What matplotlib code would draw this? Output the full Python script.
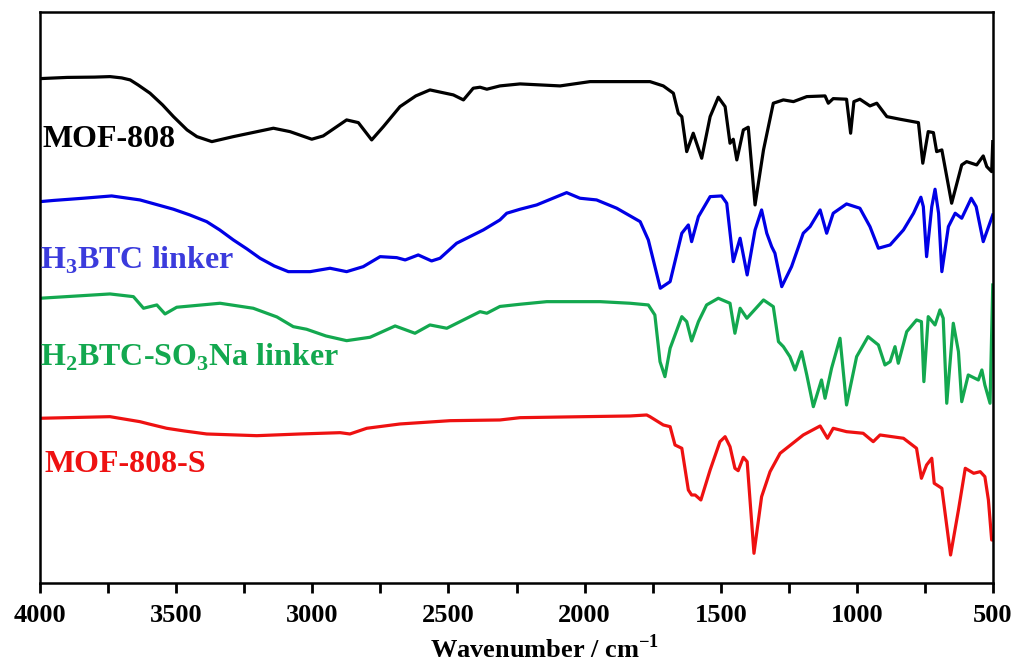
import matplotlib
matplotlib.use("Agg")
import matplotlib.pyplot as plt

plt.rcParams['font.family'] = ['Liberation Serif', 'DejaVu Serif']
plt.rcParams['font.weight'] = 'bold'
plt.rcParams['mathtext.fontset'] = 'custom'
plt.rcParams['mathtext.rm'] = 'Liberation Serif:bold'
plt.rcParams['mathtext.bf'] = 'Liberation Serif:bold'

# FTIR spectra, stacked with offsets (transmittance, a.u.)
wn_mof = [4000, 3900, 3800, 3743, 3700, 3669, 3640, 3596, 3550, 3510, 3460, 3424, 3369,
          3290, 3143, 3082, 3002,
          2960, 2874, 2831, 2782, 2739, 2678, 2620, 2568, 2482, 2445, 2409, 2384, 2359,
          2311, 2237, 2090, 1980, 1760, 1711, 1674, 1656, 1643, 1625, 1601, 1570,
          1539, 1509, 1484, 1466, 1454, 1441, 1417, 1399, 1374, 1343, 1307, 1270,
          1233, 1184, 1117, 1105, 1087, 1038, 1023, 1011, 989, 952, 927, 890, 842,
          774, 758, 738, 719, 707, 688, 652, 615, 597, 560, 536, 523, 505, 501]
t_mof = [504.3, 505.5, 505.8, 506.3, 505, 503, 498, 489.7, 478, 466.3, 453, 446.3, 441.3,
         446.3, 454.7, 451.3, 443.7,
         447, 463, 460.3, 443, 456.3, 476.3, 487, 493, 488, 483, 494.7, 495.7, 493.7,
         497, 499, 497, 501.3, 501.3, 497, 489.7, 469.7, 466.3, 431.3, 449.7, 424.7,
         466.3, 485.7, 476.3, 439.7, 443.7, 423, 453, 455.7, 378, 433, 479.7, 483,
         481.3, 486.3, 487, 479.7, 484.3, 483.7, 449.7, 481.3, 483.7, 477, 479.7, 466.3, 463.7,
         460.3, 419.7, 451.3, 450.3, 431.3, 433, 379.7, 418, 421.3, 418, 427, 416.3, 411.3, 441.3]

wn_btc = [4000, 3950, 3841, 3737, 3633, 3510, 3450, 3388, 3340, 3290, 3240, 3192, 3140,
          3088, 3008, 2935, 2874,
          2813, 2751, 2690, 2659, 2611, 2562, 2531, 2470, 2372, 2311, 2286, 2237,
          2176, 2066, 2017, 1956, 1882, 1796, 1766, 1722, 1686, 1643, 1619, 1607,
          1582, 1539, 1497, 1478, 1454, 1429, 1403, 1374, 1350, 1331, 1313, 1301,
          1276, 1240, 1197, 1172, 1135, 1111, 1087, 1038, 989, 952, 921, 878, 829,
          792, 765, 756, 744, 725, 713, 700, 688, 664, 639, 615, 580, 562, 536, 501]
t_btc = [381.3, 382.5, 384.7, 387, 383, 373.7, 368, 361.3, 353, 343, 334, 324.7, 317,
         311.3, 311.3, 314.7, 311.3,
         316.3, 326.3, 325.3, 323, 328, 322, 324.7, 339.7, 353, 363, 369.7, 373.7,
         378, 390.3, 384.7, 383, 374.7, 361.3, 343, 294.7, 301.3, 349.7, 358, 341.3,
         366.3, 386.3, 387, 379.7, 321.3, 344.7, 308, 353, 373, 349.7, 336.3, 329.7,
         296.3, 316.3, 349.7, 356.3, 373, 349.7, 369.7, 379, 374.7, 356.3, 334.7, 338, 353,
         369.7, 385.7, 376.3, 326.3, 376.3, 393.7, 369.7, 311.3, 356.3, 369.7, 364.7, 384.7, 376.3, 341.3, 368]

wn_so3 = [4000, 3743, 3657, 3620, 3571, 3541, 3498, 3339, 3217, 3130, 3070, 3021, 2950, 2874,
          2788, 2696, 2623, 2568, 2506, 2384, 2359, 2311, 2237, 2139, 1943, 1833,
          1766, 1742, 1723, 1705, 1686, 1643, 1625, 1607, 1582, 1552, 1509, 1466,
          1448, 1429, 1404, 1343, 1307, 1288, 1270, 1246, 1227, 1203, 1184, 1160,
          1130, 1117, 1093, 1062, 1038, 1001, 959, 921, 897, 878, 860, 848, 817,
          781, 763, 754, 738, 713, 695, 683, 670, 646, 627, 615, 591, 554, 541, 530, 511, 501]
t_so3 = [284.7, 289, 286.3, 274.7, 278, 269, 275.7, 279.7, 274.7, 266, 256.3, 253.7, 247, 242.3,
         245.7, 257, 249.7, 258, 254.7, 271.3, 269.7, 276.5, 278.7, 281.3, 281.3, 279.7,
         278, 268, 221.3, 206.3, 234.7, 266.3, 261.3, 242, 261.3, 278, 284.7, 279.7,
         249.7, 274.7, 264.7, 283, 276.3, 241.3, 236.3, 226.3, 213, 231.3, 208, 176.3,
         203, 184.7, 214.7, 244.7, 178, 226.3, 246.3, 238, 218, 221.3, 236.3, 219.7, 251.3,
         263, 261.3, 201.3, 266.3, 258, 273, 264.7, 179.7, 259.7, 231.3, 181.3, 208, 203, 213, 198, 179.7, 298]

wn_mofs = [4000, 3743, 3633, 3600, 3535, 3470, 3388, 3204, 3045, 2898, 2862, 2800, 2678, 2494,
           2311, 2237, 2004, 1833, 1772, 1760, 1711, 1686, 1668, 1643, 1619, 1607,
           1594, 1573, 1539, 1503, 1484, 1466, 1448, 1436, 1417, 1403, 1378, 1350,
           1319, 1282, 1197, 1135, 1108, 1087, 1038, 977, 940, 915, 829, 781, 763,
           744, 725, 716, 688, 656, 627, 602, 571, 547, 530, 517, 505, 501]
t_mofs = [164.7, 166.3, 161.3, 159, 154.7, 152, 149, 147.3, 149, 150.3, 149, 154.7, 159, 162.3,
          163, 165.3, 166.3, 167, 168, 166.3, 158, 156.3, 138, 134.7, 93, 88,
          88, 83, 113, 141.3, 146.3, 136.3, 114.7, 112.3, 125.7, 121.3, 29.7, 86.3,
          111.3, 129.7, 148, 157, 144.7, 154.7, 151.3, 149.7, 141.3, 148, 144.7, 134.7, 104.7,
          118, 124.7, 99.7, 94.7, 28, 73, 114.7, 109.7, 111.3, 106.3, 83, 43, 43]

names = ['MOF-808', r'H$_\mathrm{3}$BTC linker',
         r'H$_\mathrm{2}$BTC-SO$_\mathrm{3}$Na linker', 'MOF-808-S']
line_colors = ['#000000', '#0000e6', '#13a84f', '#ee1111']
text_colors = ['#000000', '#3b3bdc', '#13a84f', '#ee1111']
label_y = [443, 323, 226, 118]
label_x = [3990, 4000, 4000, 3985]


def Graficar():
    fig = plt.figure(figsize=(10.16, 6.61), dpi=100)
    ax = fig.add_axes([0.0394, 0.118, 0.938, 0.864])

    series = [(wn_mof, t_mof), (wn_btc, t_btc), (wn_so3, t_so3), (wn_mofs, t_mofs)]
    for (x, y), c in zip(series, line_colors):
        ax.plot(x, y, color=c, lw=2.3, solid_joinstyle='round')

    for n, c, xx, yy in zip(names, text_colors, label_x, label_y):
        ax.text(xx, yy, n, color=c, fontsize=23, fontweight='bold',
                ha='left', va='center')

    ax.set_xlim(4000, 500)
    ax.set_ylim(0, 571)
    ax.set_xticks([4000, 3500, 3000, 2500, 2000, 1500, 1000, 500])
    ax.set_xticks([3750, 3250, 2750, 2250, 1750, 1250, 750], minor=True)
    ax.set_yticks([])
    ax.tick_params(axis='x', which='both', direction='out', length=7, width=2,
                   labelsize=19, pad=8, top=False)
    for lab in ax.get_xticklabels():
        lab.set_fontweight('bold')
    for s in ax.spines.values():
        s.set_linewidth(1.8)
    ax.set_xlabel(r'Wavenumber / cm$^{\mathrm{-1}}$', fontsize=19,
                  fontweight='bold', labelpad=4)
    ax.xaxis.set_label_coords(0.529, -0.09)

    fig.savefig('out.png', dpi=100)


def main():
    Graficar()


if __name__ == "__main__":
    main()
